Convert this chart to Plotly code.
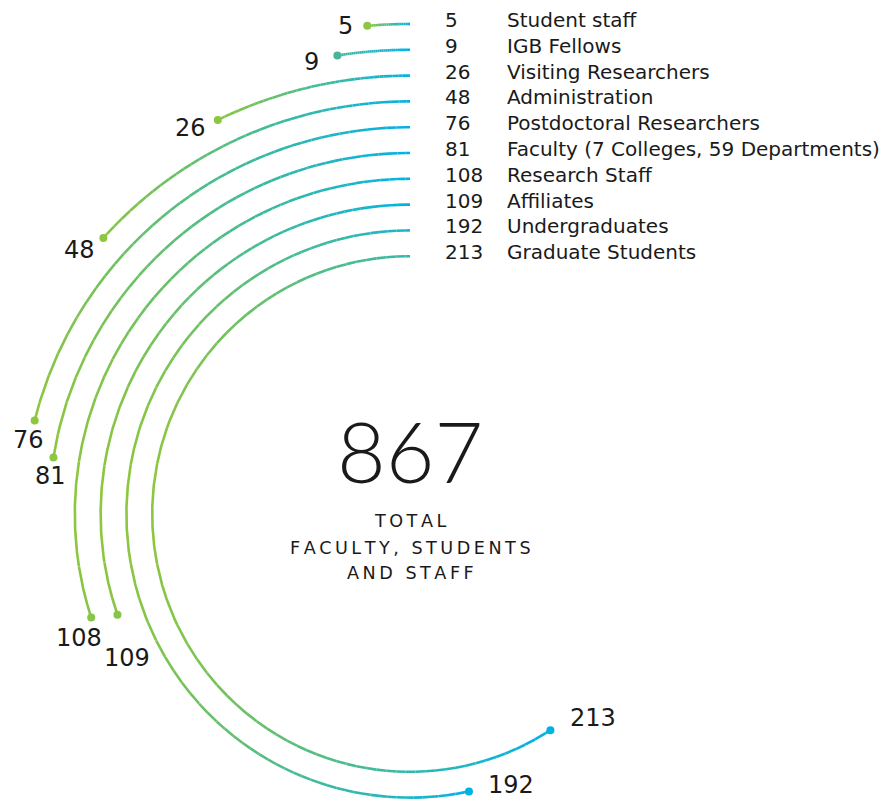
import math
import plotly.graph_objects as go

# Headcount by group (value = degrees of arc, one unit per degree)
categories = [
    "Student staff",
    "IGB Fellows",
    "Visiting Researchers",
    "Administration",
    "Postdoctoral Researchers",
    "Faculty (7 Colleges, 59 Departments)",
    "Research Staff",
    "Affiliates",
    "Undergraduates",
    "Graduate Students",
]
values = [5, 9, 26, 48, 76, 81, 108, 109, 192, 213]
total = sum(values)

# Styling
CYAN = (0, 177, 230)
GREEN = (141, 198, 63)
TEAL_END = (72, 180, 154)
end_colors = [GREEN, TEAL_END] + [GREEN] * 8
R_OUTER = 490.0
RING_GAP = 25.8
LINE_W = 2.6
FONT = "DejaVu Sans"
BIG_FONT = "Lato"
INK = "#1a1a1a"

# value-label offsets from the arc end (px, screen: right / down)
label_offsets = [(-22, 0), (-26, 6), (-27, 8), (-24, 12), (-6, 20),
                 (-3, 18), (-12, 20), (10, 43), (42, -6), (43, -12)]


def lerp(c0, c1, t):
    return tuple(int(round(a + (b - a) * t)) for a, b in zip(c0, c1))


def rgb(c):
    return "rgb(%d,%d,%d)" % c


def polar(r, deg):
    a = math.radians(deg)
    return -r * math.sin(a), r * math.cos(a)


fig = go.Figure()

# Gradient arcs: split each arc into short pieces and group pieces by colour
groups = {}
dots_x, dots_y, dots_c = [], [], []
annotations = []
for i, v in enumerate(values):
    r = R_OUTER - RING_GAP * i
    n = max(int(v / 0.25), 4)
    pts = [polar(r, v * k / n) for k in range(n + 1)]
    xs = [p[0] for p in pts]
    xmin, xmax = min(xs), max(xs)
    span = (xmax - xmin) or 1.0
    prev_col, run = None, []
    for k in range(n):
        xm = 0.5 * (pts[k][0] + pts[k + 1][0])
        t = (xmax - xm) / span
        col = rgb(lerp(CYAN, end_colors[i], round(t * 40) / 40))
        if col != prev_col:
            if run:
                gx, gy = groups.setdefault(prev_col, ([], []))
                gx.extend([p[0] for p in run] + [None])
                gy.extend([p[1] for p in run] + [None])
            run = [pts[k]]
            prev_col = col
        run.append(pts[k + 1])
    if run:
        gx, gy = groups.setdefault(prev_col, ([], []))
        gx.extend([p[0] for p in run] + [None])
        gy.extend([p[1] for p in run] + [None])

    ex, ey = pts[-1]
    t_end = (xmax - ex) / span
    dots_x.append(ex)
    dots_y.append(ey)
    dots_c.append(rgb(lerp(CYAN, end_colors[i], t_end)))

    dx, dy = label_offsets[i]
    annotations.append(dict(
        x=ex, y=ey, xref="x", yref="y", text=str(v), showarrow=False,
        xshift=dx, yshift=-dy, xanchor="center", yanchor="middle",
        font=dict(family=FONT, size=24, color=INK),
    ))

    # legend rows on the right
    row_y = r + 4
    annotations.append(dict(
        x=33, y=row_y, xref="x", yref="y", text=str(v), showarrow=False,
        xanchor="left", yanchor="middle",
        font=dict(family=FONT, size=20, color=INK),
    ))
    annotations.append(dict(
        x=95, y=row_y, xref="x", yref="y", text=categories[i], showarrow=False,
        xanchor="left", yanchor="middle",
        font=dict(family=FONT, size=20, color=INK),
    ))

for col, (gx, gy) in groups.items():
    fig.add_trace(go.Scatter(
        x=gx, y=gy, mode="lines", hoverinfo="skip", showlegend=False,
        line=dict(color=col, width=LINE_W),
    ))

fig.add_trace(go.Scatter(
    x=dots_x, y=dots_y, mode="markers", hoverinfo="skip", showlegend=False,
    marker=dict(size=8, color=dots_c, line=dict(width=0)),
))

# Centre total
annotations.append(dict(
    x=0, y=64, xref="x", yref="y", text=str(total), showarrow=False,
    xanchor="center", yanchor="middle",
    font=dict(family=BIG_FONT, size=84, color=INK, weight=300),
))
sp = "\u2009"
for line, yy in [("TOTAL", -7), ("FACULTY, STUDENTS", -34), ("AND STAFF", -59)]:
    annotations.append(dict(
        x=0, y=yy, xref="x", yref="y", text=sp.join(line), showarrow=False,
        xanchor="center", yanchor="middle",
        font=dict(family=FONT, size=17.6, color=INK),
    ))

fig.update_layout(
    width=880, height=799,
    margin=dict(l=0, r=0, t=0, b=0),
    paper_bgcolor="white", plot_bgcolor="white",
    xaxis=dict(range=[-410, 470], visible=False, fixedrange=True),
    yaxis=dict(range=[-285, 514], visible=False, fixedrange=True),
    annotations=annotations,
    showlegend=False,
)

fig.write_html("out.html")
